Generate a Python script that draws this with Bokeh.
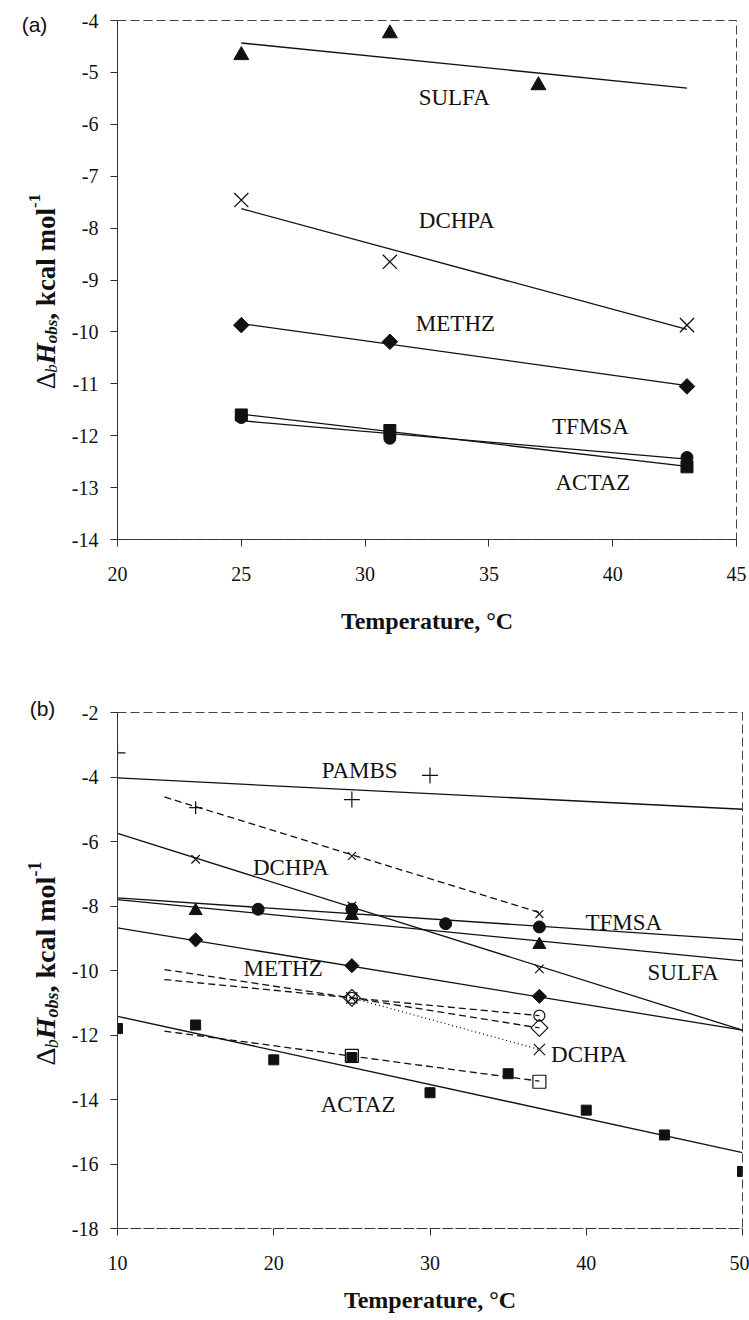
import numpy as np
from bokeh.plotting import figure
from bokeh.layouts import column, row
from bokeh.models import Label, FixedTicker, Range1d
from bokeh.core.properties import value
from bokeh.embed import file_html
from bokeh.resources import INLINE

# ---------------- panel (a) data ----------------
a_x_ticks = [20, 25, 30, 35, 40, 45]
a_x_tick_labels = ["20", "25", "30", "35", "40", "45"]
a_y_ticks = [-4, -5, -6, -7, -8, -9, -10, -11, -12, -13, -14]
a_y_tick_labels = ["-4", "-5", "-6", "-7", "-8", "-9", "-10", "-11", "-12", "-13", "-14"]

a_sulfa_t = [25, 31, 37]
a_sulfa_h = [-4.67, -4.25, -5.25]
a_dchpa_t = [25, 31, 43]
a_dchpa_h = [-7.46, -8.65, -9.87]
a_methz_t = [25, 31, 43]
a_methz_h = [-9.87, -10.19, -11.05]
a_tfmsa_t = [25, 31, 43]
a_tfmsa_h = [-11.65, -12.05, -12.42]
a_actaz_t = [25, 31, 43]
a_actaz_h = [-11.60, -11.90, -12.60]
a_fit_span = [25, 43]

a_names = ["SULFA", "DCHPA", "METHZ", "TFMSA", "ACTAZ"]
a_name_t = [33.6, 33.7, 33.65, 39.1, 39.2]
a_name_h = [-5.48, -7.85, -9.83, -11.83, -12.90]

# ---------------- panel (b) data ----------------
b_x_ticks = [10, 20, 30, 40, 50]
b_x_tick_labels = ["10", "20", "30", "40", "50"]
b_y_ticks = [-2, -4, -6, -8, -10, -12, -14, -16, -18]
b_y_tick_labels = ["-2", "-4", "-6", "-8", "-10", "-12", "-14", "-16", "-18"]

b_pambs_t = [10, 25, 30]
b_pambs_h = [-3.25, -4.70, -3.95]
b_pambs_fit_t = [10, 50]
b_pambs_fit_h = [-4.03, -5.00]

b_plusx_fit_t = [13, 37]
b_plusx_fit_h = [-4.62, -8.20]
b_plus2_t = [15]
b_plus2_h = [-4.95]
b_xsmall2_t = [25, 37]
b_xsmall2_h = [-6.45, -8.25]

b_dchpa_t = [15, 25, 37]
b_dchpa_h = [-6.55, -8.00, -9.95]
b_dchpa_fit_t = [10, 50]
b_dchpa_fit_h = [-5.75, -11.85]

b_tfmsa_t = [19, 25, 31, 37]
b_tfmsa_h = [-8.10, -8.10, -8.55, -8.65]
b_tfmsa_fit_t = [10, 50]
b_tfmsa_fit_h = [-7.75, -9.05]

b_sulfa_t = [15, 25, 37]
b_sulfa_h = [-8.15, -8.30, -9.20]
b_sulfa_fit_t = [10, 50]
b_sulfa_fit_h = [-7.80, -9.70]

b_methz_t = [15, 25, 37]
b_methz_h = [-9.05, -9.85, -10.80]
b_methz_fit_t = [10, 50]
b_methz_fit_h = [-8.68, -11.85]

b_ocirc_line_t = [13, 25, 37]
b_ocirc_line_h = [-9.97, -10.85, -11.40]
b_ocirc_t = [25, 37]
b_ocirc_h = [-10.85, -11.40]

b_odiam_line_t = [13, 25, 37]
b_odiam_line_h = [-10.28, -10.85, -11.78]
b_odiam_t = [25, 37]
b_odiam_h = [-10.85, -11.78]

b_xbig_t = [25, 37]
b_xbig_h = [-10.85, -12.45]

b_osq_line_t = [13, 37]
b_osq_line_h = [-11.88, -13.43]
b_osq_t = [25, 37]
b_osq_h = [-12.65, -13.45]

b_actaz_t = [10, 15, 20, 25, 30, 35, 40, 45, 50]
b_actaz_h = [-11.80, -11.69, -12.77, -12.70, -13.79, -13.20, -14.33, -15.10, -16.23]
b_actaz_fit_t = [10, 50]
b_actaz_fit_h = [-11.42, -15.65]

b_names = ["PAMBS", "DCHPA", "TFMSA", "SULFA", "METHZ", "ACTAZ"]
b_name_t = [25.5, 21.1, 42.4, 46.2, 20.6, 25.4]
b_name_h = [-3.80, -6.80, -8.50, -10.05, -9.95, -14.15]
b_name2 = "DCHPA"
b_name2_t = 37.75
b_name2_h = -12.60

SERIF = "Liberation Serif"
INK = "#111111"
LW = 1.3
SIDE_W = 60          # strip holding the rotated y title and panel tag
MAIN_W = 749 - SIDE_W


def no_frame_align(fig):
    try:
        fig.frame_align = False
    except Exception:
        pass


def make_panel(xr, yr, xt, xtl, yt, ytl, height, borders):
    left, right, top, bottom = borders
    p = figure(width=MAIN_W, height=height, x_range=Range1d(*xr), y_range=Range1d(*yr),
               output_backend="svg", toolbar_location=None,
               min_border_left=left, min_border_right=right,
               min_border_top=top, min_border_bottom=bottom)
    no_frame_align(p)
    p.grid.visible = False
    p.background_fill_color = "white"
    p.border_fill_color = "white"
    p.outline_line_color = "#444444"
    p.outline_line_dash = "9 4"
    p.outline_line_width = 1
    for ax, ticks, labels in ((p.xaxis[0], xt, xtl), (p.yaxis[0], yt, ytl)):
        ax.ticker = FixedTicker(ticks=ticks)
        ax.major_label_overrides = {float(t): s for t, s in zip(ticks, labels)}
        ax.minor_tick_line_color = None
        ax.major_tick_in = 0
        ax.major_tick_out = 7
        ax.major_tick_line_color = "#333333"
        ax.axis_line_color = "#333333"
        ax.major_label_text_font = SERIF
        ax.major_label_text_font_size = "20px"
        ax.major_label_text_color = INK
    p.xaxis.axis_line_dash = "9 4"
    p.yaxis.major_label_standoff = 12
    p.xaxis.major_label_standoff = 20
    p.xaxis.axis_label = "Temperature, °C"
    p.xaxis.axis_label_text_font = SERIF
    p.xaxis.axis_label_text_font_style = "bold"
    p.xaxis.axis_label_text_font_size = "24px"
    p.xaxis.axis_label_text_color = INK
    return p


def side_strip(height, center_y, base_x, tag, tag_xy, main=28, small=18):
    """Narrow strip with the rotated title  Δ_b H_obs, kcal mol^-1  and the panel tag."""
    f = figure(width=SIDE_W, height=height, x_range=Range1d(0, SIDE_W),
               y_range=Range1d(0, height), output_backend="svg", toolbar_location=None,
               min_border=0, x_axis_location=None, y_axis_location=None)
    no_frame_align(f)
    f.grid.visible = False
    f.outline_line_color = None
    f.border_fill_color = "white"

    pieces = [("Δ", main, "normal", 0.612, 0),
              ("b", small, "italic", 0.500, 6),
              ("H", main, "bold italic", 0.778, 0),
              ("obs", small, "bold italic", 1.389, 6),
              (", kcal mol", main, "bold", 4.139, 0),
              ("-1", small, "bold", 0.833, -11)]
    total = sum(sz * em for _, sz, _, em, _ in pieces)
    y = center_y - total / 2
    for txt, sz, style, em, shift in pieces:
        f.text(x=[base_x + shift], y=[y], text=[txt], angle=np.pi / 2,
               text_font=value(SERIF), text_font_size=value(f"{sz}px"),
               text_font_style=style, text_color=INK,
               text_align="left", text_baseline="alphabetic")
        y += sz * em
    f.text(x=[tag_xy[0]], y=[tag_xy[1]], text=[tag], text_font=value("Liberation Sans"),
           text_font_size=value("21px"), text_color=INK,
           text_align="center", text_baseline="middle")
    return f


def name_labels(p, xs, ys, names, size="23px"):
    for x, y, s in zip(xs, ys, names):
        p.add_layout(Label(x=x, y=y, text=s, text_font=SERIF, text_font_size=size,
                           text_color=INK, text_align="center", text_baseline="middle"))


# ---------------- panel (a) ----------------
A_H = 690
pa = make_panel((20, 45), (-14, -4), a_x_ticks, a_x_tick_labels, a_y_ticks, a_y_tick_labels,
                A_H, (117 - SIDE_W, 13, 20, 151))
pa.xaxis.axis_label_standoff = 24

series_a = [(a_sulfa_t, a_sulfa_h, "triangle", 15, True),
            (a_dchpa_t, a_dchpa_h, "x", 20, False),
            (a_methz_t, a_methz_h, "square_r", 11, True),
            (a_tfmsa_t, a_tfmsa_h, "circle", 12, True),
            (a_actaz_t, a_actaz_h, "square", 12, True)]
for t, h, marker, size, filled in series_a:
    k, c = np.polyfit(t, h, 1)
    pa.line(a_fit_span, [k * a_fit_span[0] + c, k * a_fit_span[1] + c],
            line_color=INK, line_width=LW)
for t, h, marker, size, filled in series_a:
    if marker == "square_r":
        pa.scatter(t, h, marker="square", size=size, angle=np.pi / 4,
                   fill_color=INK, line_color=INK)
    elif filled:
        pa.scatter(t, h, marker=marker, size=size, fill_color=INK, line_color=INK)
    else:
        pa.scatter(t, h, marker=marker, size=size, line_color=INK, line_width=1.3)

name_labels(pa, a_name_t, a_name_h, a_names)
side_a = side_strip(A_H, A_H - 291, 45, "(a)", (34, A_H - 24), main=27, small=17)

# ---------------- panel (b) ----------------
B_H = 630
pb = make_panel((10, 50), (-18, -2), b_x_ticks, b_x_tick_labels, b_y_ticks, b_y_tick_labels,
                B_H, (117 - SIDE_W, 7, 22, 92))
pb.xaxis.axis_label_standoff = 14

solid = [(b_pambs_fit_t, b_pambs_fit_h), (b_dchpa_fit_t, b_dchpa_fit_h),
         (b_tfmsa_fit_t, b_tfmsa_fit_h), (b_sulfa_fit_t, b_sulfa_fit_h),
         (b_methz_fit_t, b_methz_fit_h), (b_actaz_fit_t, b_actaz_fit_h)]
for t, h in solid:
    pb.line(t, h, line_color=INK, line_width=LW)

for t, h in [(b_plusx_fit_t, b_plusx_fit_h), (b_ocirc_line_t, b_ocirc_line_h),
             (b_odiam_line_t, b_odiam_line_h), (b_osq_line_t, b_osq_line_h)]:
    pb.line(t, h, line_color=INK, line_width=LW, line_dash="7 4")
pb.line(b_xbig_t, b_xbig_h, line_color=INK, line_width=LW, line_dash="1 3")

pb.scatter(b_pambs_t, b_pambs_h, marker="cross", size=16, line_color=INK, line_width=1.2)
pb.scatter(b_plus2_t, b_plus2_h, marker="cross", size=13, line_color=INK, line_width=1.2)
pb.scatter(b_xsmall2_t, b_xsmall2_h, marker="x", size=11, line_color=INK, line_width=1.2)
pb.scatter(b_dchpa_t, b_dchpa_h, marker="x", size=12, line_color=INK, line_width=1.2)
pb.scatter(b_tfmsa_t, b_tfmsa_h, marker="circle", size=12, fill_color=INK, line_color=INK)
pb.scatter(b_sulfa_t, b_sulfa_h, marker="triangle", size=13, fill_color=INK, line_color=INK)
pb.scatter(b_methz_t, b_methz_h, marker="square", size=10, angle=np.pi / 4,
           fill_color=INK, line_color=INK)
pb.scatter(b_actaz_t, b_actaz_h, marker="square", size=10, fill_color=INK, line_color=INK)
pb.scatter(b_ocirc_t, b_ocirc_h, marker="circle", size=11, fill_color=None,
           line_color=INK, line_width=1.2)
pb.scatter(b_odiam_t, b_odiam_h, marker="square", size=12, angle=np.pi / 4,
           fill_color=None, line_color=INK, line_width=1.2)
pb.scatter(b_xbig_t, b_xbig_h, marker="x", size=16, line_color=INK, line_width=1.2)
pb.scatter(b_osq_t, b_osq_h, marker="square", size=13, fill_color=None,
           line_color=INK, line_width=1.2)

name_labels(pb, b_name_t, b_name_h, b_names)
pb.add_layout(Label(x=b_name2_t, y=b_name2_h, text=b_name2, text_font=SERIF,
                    text_font_size="23px", text_color=INK,
                    text_align="left", text_baseline="middle"))
side_b = side_strip(B_H, B_H - (963 - 690), 45, "(b)", (42, B_H - 18))

layout = column(row(side_a, pa), row(side_b, pb))
open("out.html", "w").write(file_html(layout, INLINE))
